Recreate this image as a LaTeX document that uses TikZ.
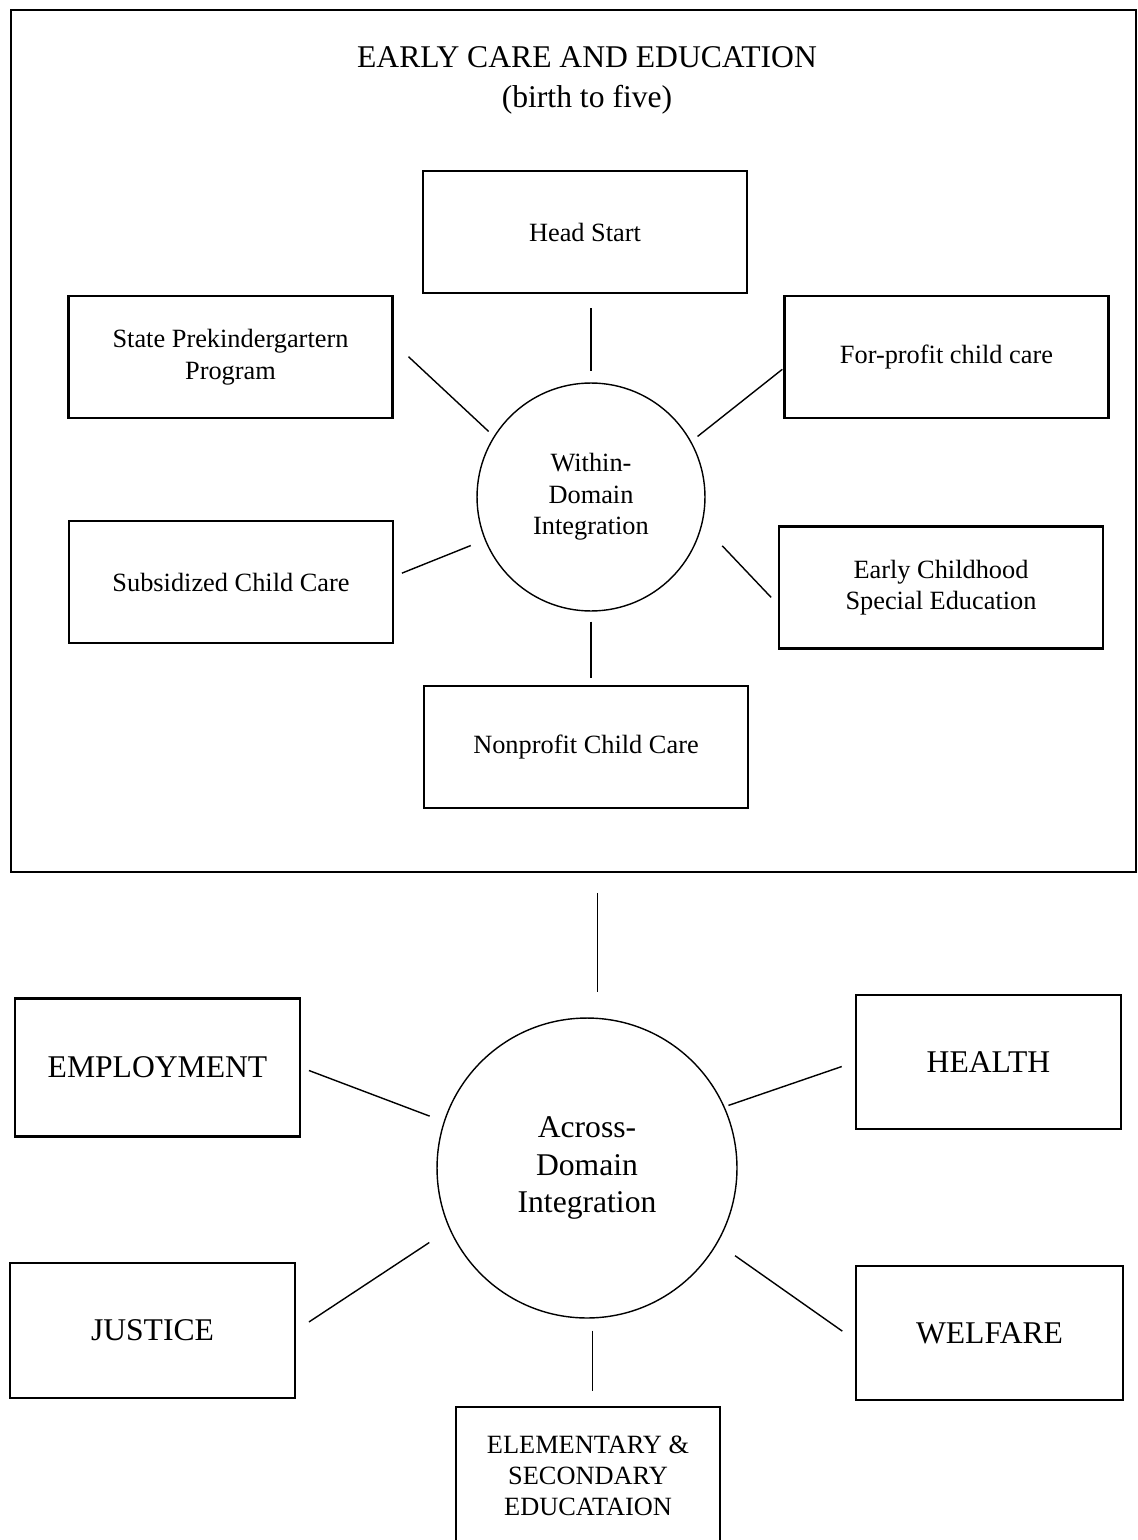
\documentclass[tikz,border=0pt]{standalone}
\usepackage{fontspec}
\setmainfont{Liberation Serif}
\usetikzlibrary{calc}

\begin{document}
\begin{tikzpicture}[x=0.02cm,y=-0.02cm,
  box/.style={draw,line width=1.2pt,minimum width=6.48cm,minimum height=2.44cm,align=center,font=\fontsize{15}{18}\selectfont},
  bigbox/.style={draw,line width=1.2pt,minimum width=5.7cm,minimum height=2.76cm,align=center,font=\fontsize{18}{21.5}\selectfont},
  hub/.style={draw,circle,line width=0.8pt,inner sep=0pt,align=center},
  link/.style={line width=0.8pt}]
\useasboundingbox (0,0) rectangle (1137,1540);

\node[draw,line width=1.2pt,minimum width=22.5cm,minimum height=17.24cm] (ece) at (573.5,441) {};
\node[align=center,font=\fontsize{18}{22.8}\selectfont] (title) at (587,80) {EARLY CARE AND EDUCATION\\(birth to five)};

\node[hub,minimum size=4.56cm,font=\fontsize{15}{18}\selectfont] (win) at (591,497) {Within-\\Domain\\Integration};

\node[box] (hs)   at (585,232)   {Head Start};
\node[box] (spk)  at (230.5,357) {State Prekindergartern\\Program};
\node[box] (fpc)  at (946.5,357) {For-profit child care};
\node[box] (sub)  at (231,582)   {Subsidized Child Care};
\node[box] (ecse) at (941,587.5) {Early Childhood\\Special Education};
\node[box] (npc)  at (586,747)   {Nonprofit Child Care};

\draw[link,shorten <=0.28cm,shorten >=0.22cm] (win.north |- hs.south) -- (win.north);
\draw[link,shorten <=0.41cm,shorten >=0.14cm] (spk.5) -- (win.148);
\draw[link,shorten <=0.03cm,shorten >=0.16cm] (fpc.184) -- (win.29);
\draw[link,shorten <=0.17cm,shorten >=0.3cm] (sub.2) -- (win.202);
\draw[link,shorten <=0.2cm,shorten >=0.58cm] (ecse.186) -- (win.-14);
\draw[link,shorten <=0.2cm,shorten >=0.14cm] (win.south) -- (win.south |- npc.north);

% across domains
\node[hub,minimum size=6cm,font=\fontsize{18}{21.5}\selectfont] (adi) at (587,1168) {Across-\\Domain\\Integration};

\node[bigbox] (emp) at (157.5,1067.5) {EMPLOYMENT};
\node[bigbox,minimum width=5.3cm,minimum height=2.68cm] (hea) at (988.5,1062) {HEALTH};
\node[bigbox,minimum height=2.7cm] (jus) at (152.5,1330.5) {JUSTICE};
\node[bigbox,minimum width=5.34cm,minimum height=2.68cm] (wel) at (989.5,1333) {WELFARE};
\node[bigbox,minimum width=5.28cm,font=\fontsize{15}{17.7}\selectfont] (ese) at (588,1476) {ELEMENTARY \&\\SECONDARY\\EDUCATAION};

\draw[link,shorten <=0.4cm,shorten >=0.52cm] (adi.86 |- ece.south) -- (adi.86);
\draw[link,shorten <=0.17cm,shorten >=0.3cm] (emp.east) -- (adi.162);
\draw[link,shorten <=0.28cm,shorten >=0.08cm] (hea.west) -- (adi.24);
\draw[link,shorten <=0.31cm,shorten >=0.48cm] (jus.east) -- (adi.204);
\draw[link,shorten <=0.31cm,shorten >=0.43cm] (wel.183) -- (adi.-30);
\draw[link,shorten <=0.24cm,shorten >=0.3cm] (adi.272) -- (adi.272 |- ese.north);

\end{tikzpicture}
\end{document}
